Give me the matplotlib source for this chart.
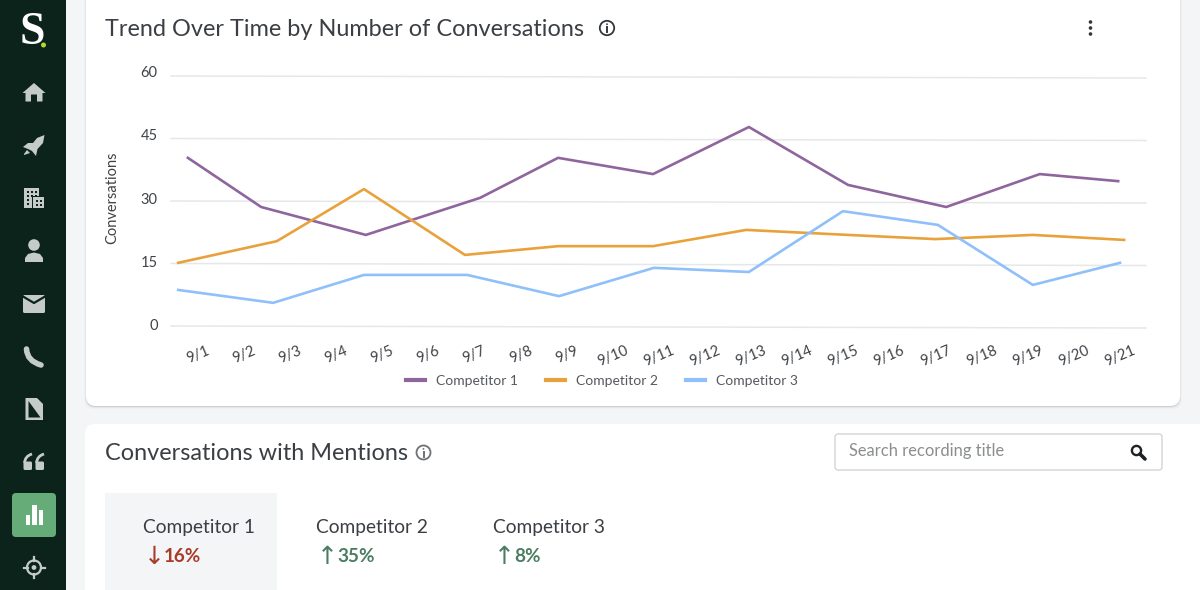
import matplotlib
matplotlib.use("Agg")
import matplotlib.pyplot as plt
from matplotlib.patches import FancyBboxPatch, Rectangle, Circle, Polygon, PathPatch
from matplotlib.path import Path
from matplotlib.transforms import Affine2D, ScaledTranslation

plt.rcParams['font.family'] = ['Lato', 'DejaVu Sans']

# ---- data (x = position on the day axis, y = conversations) ----
days = list(range(1, 22))
day_labels = [f"9/{d}" for d in days]
y_ticks = [0, 15, 30, 45, 60]

c1_x = [0.78, 2.37, 4.64, 7.12, 8.81, 10.87, 12.95, 15.10, 17.23, 19.26, 20.96]
c1_y = [40.6, 28.8, 22.1, 31.0, 40.6, 36.7, 48.0, 34.1, 28.8, 36.7, 35.0]
c2_x = [0.57, 2.71, 4.60, 6.79, 8.81, 10.87, 12.89, 15.10, 16.99, 19.11, 21.09]
c2_y = [15.4, 20.6, 33.1, 17.3, 19.4, 19.4, 23.3, 22.1, 21.1, 22.1, 20.9]
c3_x = [0.57, 2.63, 4.60, 6.84, 8.83, 10.89, 12.95, 14.99, 17.05, 19.11, 21.00]
c3_y = [8.9, 5.8, 12.5, 12.5, 7.4, 14.2, 13.2, 27.8, 24.5, 10.1, 15.4]
series_names = ["Competitor 1", "Competitor 2", "Competitor 3"]
series_colors = ["#8E659D", "#E9A23B", "#8FC0FA"]

tab_names = ["Competitor 1", "Competitor 2", "Competitor 3"]
tab_changes = ["16%", "35%", "8%"]
tab_arrows = ["↓", "↑", "↑"]
tab_colors = ["#A93B2B", "#4A7D62", "#4A7D62"]

W, H = 1200, 590
fig = plt.figure(figsize=(W / 100, H / 100), dpi=100, facecolor="#F4F5F7")

# ---- page furniture, in pixel coordinates ----
bg = fig.add_axes([0, 0, 1, 1], zorder=0)
bg.set_xlim(0, W)
bg.set_ylim(H, 0)
bg.axis("off")

TXT = "#3B3F44"
ICON = "#C5CBC9"
SIDE = "#0B231A"


def card(x0, y0, x1, y1, r=10, **kw):
    p = FancyBboxPatch((x0 + r, y0 + r), x1 - x0 - 2 * r, y1 - y0 - 2 * r,
                       boxstyle=f"round,pad={r},rounding_size={r}", mutation_aspect=1, **kw)
    bg.add_patch(p)
    return p


for grow, dy, a in [(2, 1, .02), (1, 1, .04), (0, 1, .10)]:
    card(86 - grow, -20, 1180 + grow, 406 + grow + dy, fc="#000000", ec="none", alpha=a)
card(86, -20, 1180, 406, fc="white", ec="none")
card(85, 424, 1240, 640, fc="white", ec="none")
bg.add_patch(Rectangle((105, 493), 172, 100, fc="#F4F5F7", ec="none"))

# sidebar
bg.add_patch(Rectangle((0, 0), 66, H, fc=SIDE, ec="none", zorder=2))
bg.text(32.5, 33, "S", family="Liberation Serif", fontweight="bold", fontsize=33, color="white",
        ha="center", va="center", zorder=3)
bg.add_patch(Circle((43.5, 45), 2.5, fc="#B5D92B", ec="none", zorder=3))


def poly(pts, c=ICON):
    bg.add_patch(Polygon(pts, closed=True, fc=c, ec="none", zorder=3))


def rect(x, y, w, h, c=ICON):
    bg.add_patch(Rectangle((x, y), w, h, fc=c, ec="none", zorder=4))


# home
poly([(22.5, 93), (34, 83), (45.5, 93), (42.5, 93), (42.5, 101.5), (37, 101.5), (37, 94.5), (31, 94.5),
      (31, 101.5), (25.5, 101.5), (25.5, 93)])
# rocket
poly([(44.5, 135), (43, 143), (37.5, 149), (36, 156), (32, 151), (28, 149), (23, 147), (28, 143), (33, 143), (37, 138)])
poly([(24, 154), (27, 150), (30, 153), (24, 155)])
# building
rect(24, 188, 15, 20)
rect(33, 197, 11, 11)
bg.add_patch(Rectangle((32, 196), 1.2, 12, fc=SIDE, zorder=5))
bg.add_patch(Rectangle((32, 196), 13, 1.2, fc=SIDE, zorder=5))
for yy in (191, 195, 199, 203):
    for xx in (26.5, 30.5, 34.5):
        if yy < 196 or xx < 30:
            bg.add_patch(Rectangle((xx, yy), 2, 2, fc=SIDE, zorder=5))
for yy in (200, 204):
    for xx in (35.5, 39.5):
        bg.add_patch(Rectangle((xx, yy), 2, 2, fc=SIDE, zorder=5))
# person
bg.add_patch(Circle((34, 245), 5.8, fc=ICON, ec="none", zorder=3))
poly([(25, 262), (25, 258), (28, 254), (34, 252.5), (40, 254), (43, 258), (43, 262)])
# mail
bg.add_patch(FancyBboxPatch((24, 296), 20, 16, boxstyle="round,pad=1,rounding_size=1.5", fc=ICON, ec="none", zorder=3))
bg.plot([23, 34, 45], [296.5, 303, 296.5], color=SIDE, lw=1.6, zorder=4)
# phone
bg.add_patch(PathPatch(Path([(26.5, 349), (27, 361), (41, 365)], [Path.MOVETO, Path.CURVE3, Path.CURVE3]),
                       fc="none", ec=ICON, lw=4, capstyle="round", zorder=3))
# document
poly([(25.5, 398), (37, 398), (43, 404), (43, 420), (25.5, 420)])
poly([(28.5, 401), (40.5, 417.5), (28.5, 417.5)], SIDE)
# quotes
for dx in (0, 12):
    bg.add_patch(FancyBboxPatch((24 + dx, 462), 7.5, 7.5, boxstyle="round,pad=0.5,rounding_size=1.5", fc=ICON, ec="none", zorder=3))
    bg.add_patch(PathPatch(Path([(24.5 + dx, 463), (25 + dx, 456), (32 + dx, 454)], [Path.MOVETO, Path.CURVE3, Path.CURVE3]),
                           fc="none", ec=ICON, lw=2, zorder=3))
# active chart button
bg.add_patch(FancyBboxPatch((14, 495), 40, 40, boxstyle="round,pad=2,rounding_size=4", fc="#66AC78", ec="none", zorder=3))
rect(25.5, 515, 4.5, 10, "white")
rect(32, 505, 4.5, 20, "white")
rect(38.5, 510, 4.5, 15, "white")
# target
bg.add_patch(Circle((34, 567.5), 7, fc="none", ec=ICON, lw=1.6, zorder=3))
bg.add_patch(Circle((34, 567.5), 2.4, fc=ICON, ec="none", zorder=3))
for a, b, c_, d in [(34, 557, 34, 561), (34, 574, 34, 578), (23.5, 567.5, 27.5, 567.5), (40.5, 567.5, 44.5, 567.5)]:
    bg.plot([a, c_], [b, d], color=ICON, lw=1.6, zorder=3)

# headings
bg.text(105, 29.5, "Trend Over Time by Number of Conversations", fontsize=16.95, color=TXT, va="center")
bg.text(105, 453.5, "Conversations with Mentions", fontsize=16.9, color=TXT, va="center")


def info(x, y, r, c):
    bg.add_patch(Circle((x, y), r, fc="none", ec=c, lw=1.3))
    bg.plot([x, x], [y - 1, y + r - 3], color=c, lw=1.4)
    bg.add_patch(Circle((x, y - r + 3.4), 0.9, fc=c, ec="none"))


info(607, 28, 7.2, "#33373B")
info(423.5, 452.5, 7, "#6E7276")
for yy in (22, 28, 34):
    bg.add_patch(Circle((1090.5, yy), 1.8, fc="#33373B", ec="none"))

# search box
card(835, 434, 1162, 470, r=3, fc="white", ec="#D3D3D6", lw=1.0)
bg.text(849, 451, "Search recording title", fontsize=11.9, color="#8B8E91", va="center")
bg.add_patch(Circle((1136.5, 450.5), 4.6, fc="none", ec="#1E2226", lw=1.7))
bg.plot([1140, 1145], [454, 459], color="#1E2226", lw=2.6, solid_capstyle="round")

# tabs
tab_x = [143, 316, 493]
for xx, name, ch, ar, col in zip(tab_x, tab_names, tab_changes, tab_arrows, tab_colors):
    bg.text(xx, 528, name, fontsize=13.8, color=TXT, va="center")
    bg.text(xx + 11.5, 557, ar, family="DejaVu Sans", fontsize=18, color=col, va="center", ha="center")
    bg.text(xx + 21, 557, ch, fontsize=13.6, fontweight="bold", color=col, va="center")

# ---- chart ----
L, R, T, B = 171, 1146, 77, 327
ax = fig.add_axes([L / W, 1 - B / H, (R - L) / W, (B - T) / H], zorder=1)
ax.patch.set_alpha(0)
ax.set_xlim(0.414, 21.564)
ax.set_ylim(0, 60)
for s in ax.spines.values():
    s.set_visible(False)

# the screenshot's gridlines run about 2 px downhill from left to right
cx, cy = (L + R) / 2, H - (T + B) / 2
tilt = Affine2D().translate(-cx, -cy).skew_deg(0, -0.117).translate(cx, cy)
for v in y_ticks:
    ax.plot(ax.get_xlim(), [v, v], color="#E6E7E8", lw=1.1, zorder=1, clip_on=False,
            transform=ax.transData + tilt)

handles = []
for xs, ys, col, name in zip((c1_x, c2_x, c3_x), (c1_y, c2_y, c3_y), series_colors, series_names):
    handles.append(ax.plot(xs, ys, color=col, lw=1.9, label=name, zorder=3, solid_joinstyle="round")[0])

ax.set_yticks(y_ticks)
ax.set_yticklabels([str(v) for v in y_ticks])
ax.tick_params(axis="y", length=0, pad=9.7, labelsize=10.5, labelcolor="#3F4347")
for v, lab in zip(y_ticks, ax.get_yticklabels()):
    shift = ScaledTranslation(0, (2.5 + 3 * v / 60) / 100, fig.dpi_scale_trans)
    lab.set_transform(lab.get_transform() + shift)

ax.set_xticks(days)
ax.set_xticklabels(day_labels, rotation=23, ha="center", va="top")
ax.tick_params(axis="x", length=0, pad=12, labelsize=10.5, labelcolor="#3F4347")

ax.text(-0.0605, 0.515, "Conversations", transform=ax.transAxes, rotation=90, fontsize=10.5,
        color="#3F4347", ha="center", va="center", clip_on=False)

leg = ax.legend(handles=handles, ncol=3, loc="center", bbox_to_anchor=((602 - L) / (R - L), (B - 381) / (B - T)),
                frameon=False, fontsize=10, labelcolor="#55595D", handlelength=1.37, handletextpad=0.8,
                columnspacing=2.0, borderpad=0, borderaxespad=0)
for h in leg.get_lines():
    h.set_linewidth(3)

fig.savefig("out.png", dpi=100, facecolor=fig.get_facecolor())
